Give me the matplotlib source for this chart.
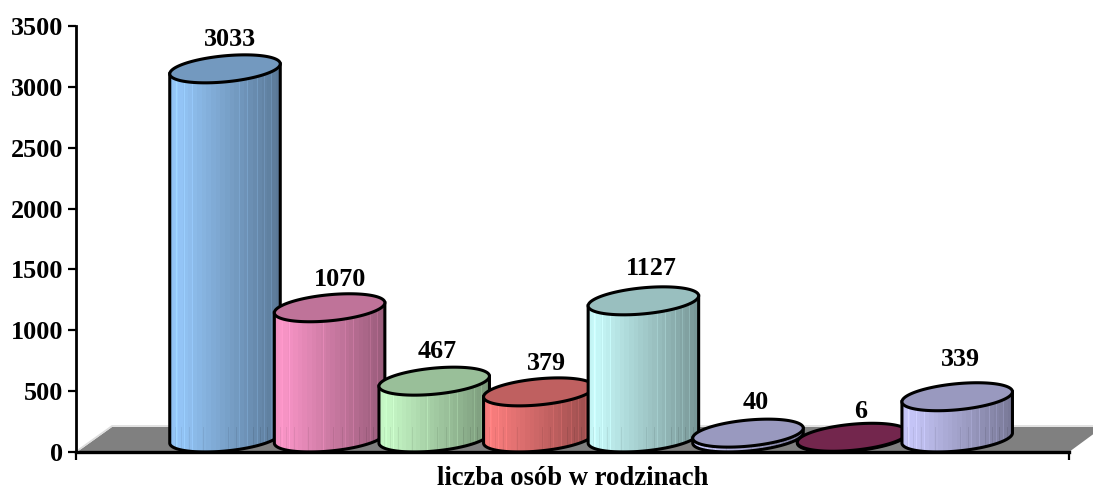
import matplotlib
matplotlib.use('Agg')
import matplotlib.pyplot as plt
import numpy as np
from matplotlib.path import Path
from matplotlib.patches import PathPatch, Polygon
from matplotlib.colors import to_rgb

values = [3033, 1070, 467, 379, 1127, 40, 6, 339]
y_ticks = [0, 500, 1000, 1500, 2000, 2500, 3000, 3500]
body_colors = ['#99CCFF', '#FF99CC', '#CCFFCC', '#FF8080', '#CCFFFF', '#CCCCFF', '#993366', '#CCCCFF']
xlabel = 'liczba osób w rodzinach'

# label nudges in pixels, Excel did not center them
label_dx = [5, 10, 3, 8, 8, 8, 8, 3]
label_dy = [29, 28, 30, 28, 32, 31, 26, 37]

W, H = 1093, 492
# axes box in pixels of the picture
left, right, top, bottom = 76, 1069, 26, 452
pitch = 104.6     # px between cylinders
first_c = 225     # px of first cylinder center
base_px = 14      # cylinder base center sits this far above the axis
floor_px = 25     # depth of the floor in px

plt.rcParams['font.family'] = ['Liberation Serif', 'DejaVu Serif']
plt.rcParams['font.weight'] = 'bold'

fig = plt.figure(figsize=(W / 100, H / 100), dpi=100)
ax = fig.add_axes([left / W, 1 - bottom / H, (right - left) / W, (bottom - top) / H])
xlim = ((left - first_c) / pitch, (right - first_c) / pitch)
ylim = (0, 3500)
py = 3500 / (bottom - top)  # data units per px
px = 1 / pitch


def ellipse(xc, yc, a=55.5, b=13, tilt=5.5):
    # tilted ellipse, computed in pixels then put into data units
    t = np.linspace(0, 2 * np.pi, 181)
    th = np.radians(tilt)
    ex = a * np.cos(t) * np.cos(th) - b * np.sin(t) * np.sin(th)
    ey = a * np.cos(t) * np.sin(th) + b * np.sin(t) * np.cos(th)
    return xc + ex * px, yc + ey * py


def gradient(color, lower=False):
    rgb = np.array(to_rgb(color))
    n = 120
    f = np.floor(np.linspace(0, 1, n) * 24) / 24
    shade = 1 - 0.42 * f
    shade[:10] = np.linspace(0.93, 1.0, 10)
    # the thin light lines of the Excel fill
    for s in [0.07, 0.14, 0.21, 0.44, 0.63, 0.70, 0.79, 0.85, 0.91]:
        shade[int(s * n)] += 0.07
    # below the back of the floor the lines turn darker
    if lower:
        for s in [0.05, 0.11, 0.18, 0.30, 0.53, 0.60, 0.75, 0.82, 0.88, 0.95]:
            shade[int(s * n)] -= 0.06
    return np.clip(shade[None, :, None] * rgb[None, None, :], 0, 1)


# floor
floor = Polygon([(1 / 993, 0), (36 / 993, floor_px / 426), (1027 / 993, floor_px / 426), (1, 0)],
                closed=True, facecolor='#808080', edgecolor='none',
                transform=ax.transAxes, clip_on=False, zorder=1)
ax.add_patch(floor)
ax.plot([1 / 993, 36 / 993, 1027 / 993], [1 / 426, 26 / 426, 26 / 426], color='#DDDDDD', lw=1.2,
        transform=ax.transAxes, clip_on=False, zorder=1)

for i, (v, c) in enumerate(zip(values, body_colors)):
    y0 = base_px * py
    y1 = y0 + v
    bx, by = ellipse(i, y0)
    tx, ty = ellipse(i, y1)
    # body outline: lower arc of the base, then across the top
    il, ir = np.argmin(bx), np.argmax(bx)
    idx = np.arange(ir, il + 1) if ir < il else np.r_[ir:len(bx), 0:il + 1]
    arc = np.column_stack([bx[idx], by[idx]])
    if arc[:, 1].mean() > y0:
        idx = np.r_[il:len(bx), 0:ir + 1] if il > ir else np.arange(il, ir + 1)
        arc = np.column_stack([bx[idx], by[idx]])[::-1]
    # arc runs right to left along the bottom
    verts = np.vstack([arc, [tx[il], ty[il]], [tx[ir], ty[ir]]])
    z = 3 + i * 2
    body = PathPatch(Path(np.vstack([verts, verts[0]]), closed=True), facecolor='none',
                     edgecolor='black', lw=2.2, clip_on=False, zorder=z + 0.5)
    ax.add_patch(body)
    floor_y = floor_px * py
    im = ax.imshow(gradient(c), extent=[i - 56 * px, i + 56 * px, floor_y, max(y1 + 20 * py, floor_y + 1)],
                   aspect='auto', origin='lower', interpolation='nearest', zorder=z)
    im.set_clip_path(body)
    im2 = ax.imshow(gradient(c, lower=True), extent=[i - 56 * px, i + 56 * px, 0, floor_y],
                    aspect='auto', origin='lower', interpolation='nearest', zorder=z)
    im2.set_clip_path(body)
    cap_color = tuple(np.array(to_rgb(c)) * 0.75)
    cap = Polygon(np.column_stack([tx, ty]), closed=True, facecolor=cap_color, edgecolor='black',
                  lw=2.2, clip_on=False, zorder=z + 1)
    ax.add_patch(cap)
    ax.annotate(str(v), (i, y1), xytext=(label_dx[i], label_dy[i]), textcoords='offset pixels',
                ha='center', va='center', fontsize=18.8, fontweight='bold', zorder=30,
                annotation_clip=False)

ax.set_xlim(*xlim)
ax.set_ylim(*ylim)
ax.patch.set_visible(False)
for s in ['top', 'right']:
    ax.spines[s].set_visible(False)
ax.spines['left'].set_linewidth(2.0)
ax.spines['bottom'].set_linewidth(2.4)
ax.spines['left'].set_zorder(40)
ax.spines['bottom'].set_zorder(40)
ax.set_yticks(y_ticks)
ax.set_xticks(list(xlim), ['', ''])
ax.tick_params(axis='y', length=6, width=1.6, pad=3, labelsize=18.8)
ax.tick_params(axis='x', length=6, width=1.6)
ax.set_xlabel(xlabel, fontsize=19.2, fontweight='bold', labelpad=0.5)

fig.savefig('out.png', dpi=100)
